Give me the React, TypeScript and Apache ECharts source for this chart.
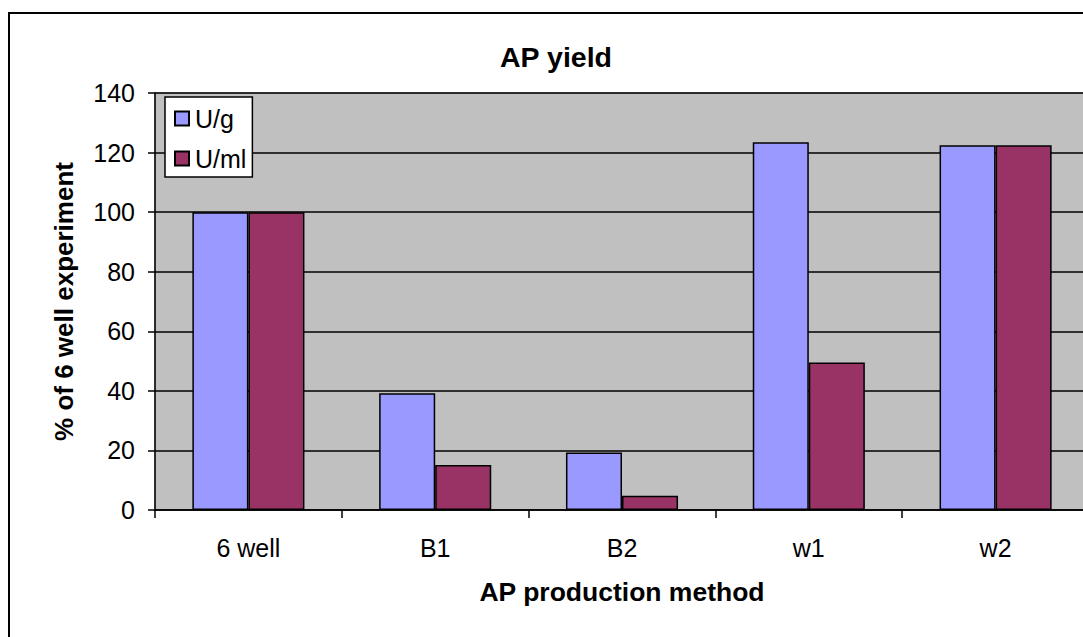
import React, { useEffect, useRef } from "react";
import * as echarts from "echarts";

// Production methods on the category axis
const methods = ["6 well", "B1", "B2", "w1", "w2"];
// Yield per gram, % of the 6 well experiment
const perGram = [100, 39.2, 19.3, 123.5, 122.5];
// Yield per millilitre, % of the 6 well experiment
const perMl = [100, 15.1, 4.8, 49.5, 122.5];
const seriesNames = ["U/g", "U/ml"];
const seriesColors = ["#9999FF", "#993366"];

const FONT = "'Liberation Sans', Arial, Helvetica, sans-serif";

// The chart canvas is wider than the view; the plot runs past the right edge.
const CHART_W = 1110;
const CHART_H = 637;

export default function App() {
  const ref = useRef<HTMLDivElement>(null);

  useEffect(() => {
    if (!ref.current) return;
    const chart = echarts.init(ref.current, null, { renderer: "svg" });
    chart.setOption({
      animation: false,
      backgroundColor: "#ffffff",
      textStyle: { fontFamily: FONT, color: "#000" },
      title: {
        text: "AP yield",
        left: 551,
        top: 37,
        textAlign: "center",
        textStyle: { fontFamily: FONT, fontSize: 28.5, fontWeight: "bold", color: "#000" },
      },
      graphic: [
        {
          // chart frame
          type: "rect",
          shape: { x: 9, y: 13, width: 1095, height: 700 },
          style: { fill: "none", stroke: "#000", lineWidth: 2 },
          z: 100,
          silent: true,
        },
      ],
      legend: {
        orient: "vertical",
        left: 165,
        top: 97,
        backgroundColor: "#ffffff",
        borderColor: "#000",
        borderWidth: 1.5,
        borderRadius: 0,
        padding: [9, 6, 6, 9],
        itemWidth: 14,
        itemHeight: 14,
        itemGap: 15,
        icon: "rect",
        textStyle: { fontFamily: FONT, fontSize: 25, color: "#000", padding: [0, 0, 0, 1] },
        data: seriesNames,
      },
      grid: {
        left: 155,
        top: 93,
        right: CHART_W - 1089,
        bottom: 127,
        show: true,
        backgroundColor: "#C0C0C0",
        borderColor: "#808080",
        borderWidth: 1,
      },
      xAxis: {
        type: "category",
        data: methods,
        name: "AP production method",
        nameLocation: "middle",
        nameGap: 67,
        nameTextStyle: { fontFamily: FONT, fontSize: 26.5, fontWeight: "bold", color: "#000", lineHeight: 30 },
        axisLine: { lineStyle: { color: "#000", width: 1.5 } },
        axisTick: { show: true, length: 8, lineStyle: { color: "#000", width: 1.5 } },
        axisLabel: { fontFamily: FONT, fontSize: 25, color: "#000", margin: 25, lineHeight: 26 },
        splitLine: { show: false },
      },
      yAxis: {
        type: "value",
        min: 0,
        max: 140,
        interval: 20,
        name: "% of 6 well experiment",
        nameLocation: "middle",
        nameGap: 78,
        nameTextStyle: { fontFamily: FONT, fontSize: 26, fontWeight: "bold", color: "#000" },
        axisLine: { show: true, lineStyle: { color: "#000", width: 1.5 } },
        axisTick: { show: true, length: 7, lineStyle: { color: "#000", width: 1.5 } },
        axisLabel: { fontFamily: FONT, fontSize: 25, color: "#000", margin: 20 },
        splitLine: { show: true, lineStyle: { color: "#000", width: 1.5 } },
      },
      series: [
        {
          name: seriesNames[0],
          type: "bar",
          data: perGram,
          barGap: "0%",
          barCategoryGap: "40%",
          itemStyle: { color: seriesColors[0], borderColor: "#000", borderWidth: 1.5 },
        },
        {
          name: seriesNames[1],
          type: "bar",
          data: perMl,
          barGap: "0%",
          barCategoryGap: "40%",
          itemStyle: { color: seriesColors[1], borderColor: "#000", borderWidth: 1.5 },
        },
      ],
    });
    return () => chart.dispose();
  }, []);

  return (
    <div
      style={{
        position: "absolute",
        left: 0,
        top: 0,
        width: 1083,
        height: 637,
        overflow: "hidden",
      }}
    >
      <div ref={ref} style={{ width: CHART_W, height: CHART_H }} />
    </div>
  );
}
